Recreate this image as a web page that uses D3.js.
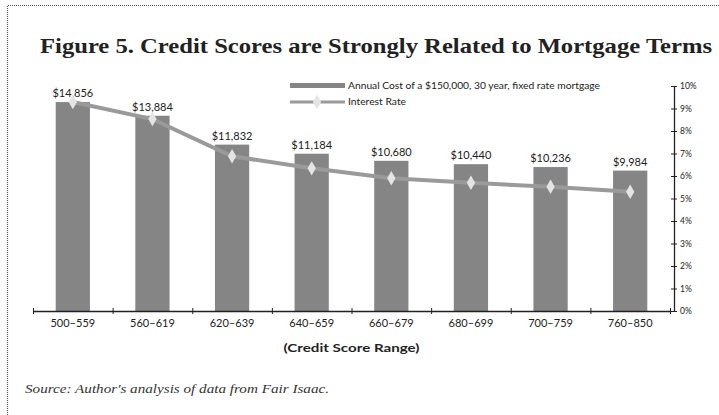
<!DOCTYPE html>
<html>
<head>
<meta charset="utf-8">
<script src="https://cdn.jsdelivr.net/npm/d3@7"></script>
<style>
  body { margin: 0; background: #fff; }
  svg { display: block; }
</style>
</head>
<body>
<div id="wrapper"></div>
<script>
const categories = ["500–559", "560–619", "620–639", "640–659", "660–679", "680–699", "700–759", "760–850"]
const annualCost = [14856, 13884, 11832, 11184, 10680, 10440, 10236, 9984]
const interestRate = [9.29, 8.53, 6.88, 6.34, 5.90, 5.70, 5.52, 5.30]
const rateTicks = [0, 1, 2, 3, 4, 5, 6, 7, 8, 9, 10]

function drawChart(){
    let dimensions = {
        width: 719,
        height: 415,
        margin: { top: 86, right: 49, bottom: 104, left: 33 },
    }
    dimensions.boundedWidth = dimensions.width - dimensions.margin.left - dimensions.margin.right
    dimensions.boundedHeight = dimensions.height - dimensions.margin.top - dimensions.margin.bottom

    const wrapper = d3.select("#wrapper")
        .append("svg")
        .attr("width", dimensions.width)
        .attr("height", dimensions.height)

    // frame (left + top only, like the scan)
    wrapper.append("path")
        .attr("d", "M7.5,415 L7.5,5.5 L719,5.5")
        .attr("fill", "none")
        .attr("stroke", "#555")
        .attr("stroke-width", 1.2)
        .attr("stroke-dasharray", "1,1")

    wrapper.append("text")
        .attr("x", 376)
        .attr("y", 53)
        .attr("text-anchor", "middle")
        .attr("textLength", 672)
        .attr("lengthAdjust", "spacingAndGlyphs")
        .style("font-family", "'Liberation Serif', serif")
        .style("font-weight", "bold")
        .style("font-size", "21px")
        .attr("fill", "#222")
        .text("Figure 5. Credit Scores are Strongly Related to Mortgage Terms")

    const bounds = wrapper.append("g")
        .attr("transform", `translate(${dimensions.margin.left},${dimensions.margin.top})`)

    const xScale = d3.scaleBand()
        .domain(categories)
        .range([0, dimensions.boundedWidth])
        .paddingInner(0.57)
        .paddingOuter(0.285)

    const costScale = d3.scaleLinear()
        .domain([0, 16000])
        .range([dimensions.boundedHeight, 0])

    const rateScale = d3.scaleLinear()
        .domain([0, 10])
        .range([dimensions.boundedHeight, 0])

    const barColor = "#858585"

    bounds.selectAll("rect.bar")
        .data(annualCost)
        .join("rect")
        .attr("class", "bar")
        .attr("x", (d, i) => xScale(categories[i]))
        .attr("width", xScale.bandwidth())
        .attr("y", d => costScale(d))
        .attr("height", d => dimensions.boundedHeight - costScale(d))
        .attr("fill", barColor)

    bounds.selectAll("text.val")
        .data(annualCost)
        .join("text")
        .attr("class", "val")
        .attr("x", (d, i) => xScale(categories[i]) + xScale.bandwidth() / 2)
        .attr("y", d => costScale(d) - 5)
        .attr("text-anchor", "middle")
        .style("font-family", "Lato, sans-serif")
        .style("font-size", "11px")
        .attr("fill", "#222")
        .text(d => "$" + d3.format(",")(d))

    const lineGenerator = d3.line()
        .x((d, i) => xScale(categories[i]) + xScale.bandwidth() / 2)
        .y(d => rateScale(d))

    bounds.append("path")
        .attr("d", lineGenerator(interestRate))
        .attr("fill", "none")
        .attr("stroke", "#9a9a9a")
        .attr("stroke-width", 4)

    const diamond = d3.symbol().type(d3.symbolDiamond).size(60)
    bounds.selectAll("path.pt")
        .data(interestRate)
        .join("path")
        .attr("class", "pt")
        .attr("d", diamond)
        .attr("transform", (d, i) => `translate(${xScale(categories[i]) + xScale.bandwidth() / 2},${rateScale(d)})`)
        .attr("fill", "#e4e4e4")

    // x axis: ticks at category edges
    const edgeScale = d3.scaleLinear()
        .domain([0, categories.length])
        .range([0, dimensions.boundedWidth])

    const xAxis = bounds.append("g")
        .attr("transform", `translate(0,${dimensions.boundedHeight})`)
        .call(d3.axisBottom(edgeScale).tickValues(d3.range(categories.length + 1)).tickFormat("").tickSizeInner(3).tickSizeOuter(0))
    xAxis.selectAll(".tick line").attr("y1", -3).attr("stroke", "#222")
    xAxis.select(".domain").attr("stroke", "#222").attr("stroke-width", 1.3)

    const xLabels = bounds.append("g")
        .attr("transform", `translate(0,${dimensions.boundedHeight})`)
        .call(d3.axisBottom(xScale).tickSize(0).tickPadding(8))
    xLabels.select(".domain").remove()
    xLabels.selectAll("text")
        .style("font-family", "Lato, sans-serif")
        .style("font-size", "11px")
        .attr("fill", "#222")

    bounds.append("text")
        .attr("x", dimensions.boundedWidth / 2)
        .attr("y", dimensions.boundedHeight + 41)
        .attr("text-anchor", "middle")
        .attr("textLength", 136)
        .attr("lengthAdjust", "spacingAndGlyphs")
        .style("font-family", "Lato, sans-serif")
        .style("font-weight", "bold")
        .style("font-size", "12px")
        .attr("fill", "#222")
        .text("(Credit Score Range)")

    // right axis: interest rate
    const yAxis = bounds.append("g")
        .attr("transform", `translate(${dimensions.boundedWidth + 4},0)`)
        .call(d3.axisRight(rateScale).tickValues(rateTicks).tickFormat(d => d + "%").tickSizeInner(3).tickSizeOuter(0).tickPadding(3))
    yAxis.selectAll(".tick line").attr("x1", -3).attr("stroke", "#222")
    yAxis.select(".domain").attr("stroke", "#222").attr("stroke-width", 1.3)
    yAxis.selectAll("text")
        .style("font-family", "Lato, sans-serif")
        .style("font-size", "8.5px")
        .attr("fill", "#222")

    // legend
    const legend = wrapper.append("g").attr("transform", "translate(290,0)")
    legend.append("rect")
        .attr("x", 0).attr("y", 83)
        .attr("width", 55).attr("height", 5)
        .attr("fill", barColor)
    legend.append("text")
        .attr("x", 58).attr("y", 89)
        .attr("textLength", 252)
        .attr("lengthAdjust", "spacingAndGlyphs")
        .style("font-family", "Lato, sans-serif")
        .style("font-size", "10px")
        .attr("fill", "#222")
        .text("Annual Cost of a $150,000, 30 year, fixed rate mortgage")
    legend.append("line")
        .attr("x1", 0).attr("x2", 55)
        .attr("y1", 102).attr("y2", 102)
        .attr("stroke", "#9a9a9a")
        .attr("stroke-width", 3)
    legend.append("path")
        .attr("d", diamond)
        .attr("transform", "translate(27,102)")
        .attr("fill", "#e4e4e4")
    legend.append("text")
        .attr("x", 58).attr("y", 105)
        .attr("textLength", 58)
        .attr("lengthAdjust", "spacingAndGlyphs")
        .style("font-family", "Lato, sans-serif")
        .style("font-size", "10px")
        .attr("fill", "#222")
        .text("Interest Rate")

    wrapper.append("text")
        .attr("x", 25)
        .attr("y", 393)
        .attr("textLength", 304)
        .attr("lengthAdjust", "spacingAndGlyphs")
        .style("font-family", "'Liberation Serif', serif")
        .style("font-style", "italic")
        .style("font-size", "13px")
        .attr("fill", "#333")
        .text("Source: Author's analysis of data from Fair Isaac.")
}
drawChart()
</script>
</body>
</html>
